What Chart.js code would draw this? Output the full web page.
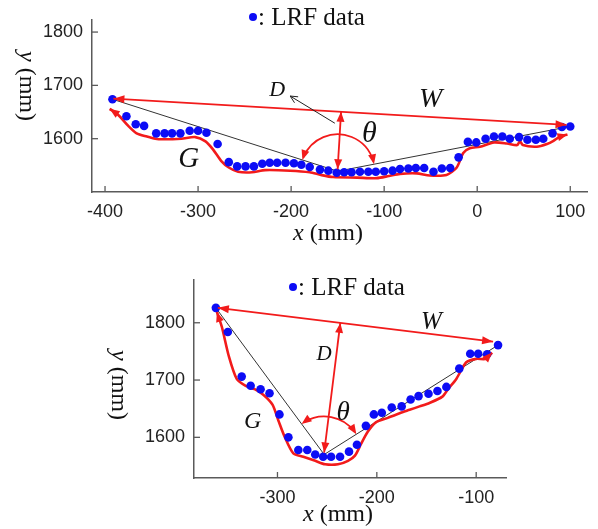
<!DOCTYPE html>
<html><head><meta charset="utf-8">
<script src="https://cdn.jsdelivr.net/npm/chart.js@4.4.0/dist/chart.umd.min.js"></script>
<style>
html,body{margin:0;padding:0;background:#fff;width:598px;height:529px;overflow:hidden}
.box{position:absolute;left:0}
</style></head><body>
<div class="box" style="top:0;width:598px;height:260px"><canvas id="c1" width="598" height="260"></canvas></div>
<div class="box" style="top:260px;width:598px;height:269px"><canvas id="c2" width="598" height="269"></canvas></div>
<script>
// ---------- Top chart data ----------
const topLrfX = [-392,-377,-367,-358,-345,-336,-328,-319,-309,-300,-291,-279,-267,-258,-249,-240,-231,-223,-215,-206,-197,-189,-180,-169,-160,-151,-143,-135,-126,-117,-109,-100,-91,-83,-74,-66,-57,-47,-38,-29,-20,-10,-1,9,18,27,35,45,54,63,71,81,91,100];
const topLrfY = [1674,1642,1627,1624,1610,1610,1610,1610,1615,1615,1611,1590,1556,1548,1548,1548,1553,1555,1555,1555,1554,1551,1547,1542,1540,1536,1537,1537,1538,1538,1538,1539,1540,1543,1544,1545,1545,1538,1544,1545,1565,1594,1593,1600,1604,1604,1600,1603,1598,1598,1600,1610,1622,1623];
const topGX = [-395,-386,-375,-366,-355,-346,-338,-318,-303,-292,-284,-275,-267,-257,-242,-228,-201,-180,-168,-155,-129,-108,-95,-83,-65,-51,-33,-22,-15,-8,3,18,32,43,46,49,64,75,82,89,97];
const topGY = [1656,1645,1624,1610,1604,1600,1599,1600,1603,1595,1580,1558,1546,1538,1537,1541,1540,1537,1532,1528,1527,1526,1530,1534,1535,1531,1532,1546,1573,1582,1585,1593,1591,1588,1595,1588,1585,1590,1596,1604,1608];
const topVX = [-392,-150,100];
const topVY = [1674,1539,1623];
const topWX = [-391,96];
const topWY = [1675,1626];
const topXTicks = [-400,-300,-200,-100,0,100];
const topYTicks = [1600,1700,1800];

// ---------- Bottom chart data ----------
const botLrfX = [-362,-350,-336,-327,-317,-308,-298,-289,-279,-270,-262,-254,-246,-237,-228,-220,-211,-203,-195,-185,-175,-166,-158,-148,-139,-130,-117,-106,-98,-89,-78];
const botLrfY = [1826,1784,1706,1690,1684,1677,1640,1600,1578,1578,1570,1566,1566,1566,1575,1587,1620,1640,1643,1652,1654,1666,1672,1676,1681,1688,1720,1746,1746,1745,1761];
const botGX = [-361,-356,-349,-341,-332,-323,-314,-305,-299,-293,-284,-274,-262,-252,-239,-229,-222,-216,-209,-201,-189,-177,-167,-157,-147,-134,-128,-120,-110,-100,-90,-84];
const botGY = [1819,1793,1742,1702,1690,1684,1674,1657,1629,1602,1572,1566,1559,1553,1553,1559,1568,1588,1610,1626,1634,1642,1648,1654,1660,1671,1685,1702,1731,1737,1737,1748];
const botVX = [-362,-253,-78];
const botVY = [1826,1570,1761];
const botWX = [-360,-83];
const botWY = [1826,1767];
const botXTicks = [-300,-200,-100];
const botYTicks = [1600,1700,1800];

const pts = (xs, ys) => xs.map((x, i) => ({x, y: ys[i]}));
const RED = '#f21b1b', BLUE = '#0c0cf5', AX = '#5a5a5a';
const SERIF = '"Liberation Serif","Times New Roman",serif';
const SANS = '"Liberation Sans",Arial,sans-serif';

function arrowHead(ctx, tx, ty, fx, fy, len, w, color) {
  const a = Math.atan2(ty - fy, tx - fx);
  ctx.save();
  ctx.fillStyle = color;
  ctx.translate(tx, ty); ctx.rotate(a);
  ctx.beginPath(); ctx.moveTo(0, 0); ctx.lineTo(-len, w / 2); ctx.lineTo(-len, -w / 2); ctx.closePath(); ctx.fill();
  ctx.restore();
}

function overlay(conf) {
  return {
    id: 'ov',
    afterDatasetsDraw(chart) {
      const ctx = chart.ctx, xs = chart.scales.x, ys = chart.scales.y, a = chart.chartArea;
      const P = (x, y) => [xs.getPixelForValue(x), ys.getPixelForValue(y)];
      ctx.save();
      // inward ticks
      ctx.strokeStyle = AX; ctx.lineWidth = 1.3;
      conf.xTicks.forEach(v => { const p = xs.getPixelForValue(v); ctx.beginPath(); ctx.moveTo(p, a.bottom); ctx.lineTo(p, a.bottom - 6); ctx.stroke(); });
      conf.yTicks.forEach(v => { const p = ys.getPixelForValue(v); ctx.beginPath(); ctx.moveTo(a.left, p); ctx.lineTo(a.left + 6, p); ctx.stroke(); });

      // W arrow heads
      const w1 = P(conf.wx[0], conf.wy[0]), w2 = P(conf.wx[1], conf.wy[1]);
      arrowHead(ctx, w1[0], w1[1], w2[0], w2[1], 11, 8, RED);
      arrowHead(ctx, w2[0], w2[1], w1[0], w1[1], 11, 8, RED);
      // G arrow heads
      const gx = conf.gx, gy = conf.gy, n = gx.length;
      const g0 = P(gx[0], gy[0]), g1 = P(gx[1], gy[1]);
      arrowHead(ctx, g0[0], g0[1], g1[0], g1[1], 10, 8, RED);
      const gn = P(gx[n - 1], gy[n - 1]), gm = P(gx[n - 2], gy[n - 2]);
      arrowHead(ctx, gn[0], gn[1], gm[0], gm[1], 10, 8, RED);

      // D arrow: perpendicular from vertex to W
      const v = P(conf.vx[1], conf.vy[1]);
      const dx = w2[0] - w1[0], dy = w2[1] - w1[1];
      const t = ((v[0] - w1[0]) * dx + (v[1] - w1[1]) * dy) / (dx * dx + dy * dy);
      const f = [w1[0] + t * dx, w1[1] + t * dy];
      const vt = [v[0], v[1] - 2];
      ctx.strokeStyle = RED; ctx.lineWidth = 1.8;
      ctx.beginPath(); ctx.moveTo(vt[0], vt[1]); ctx.lineTo(f[0], f[1]); ctx.stroke();
      arrowHead(ctx, f[0], f[1], vt[0], vt[1], 10, 8, RED);
      arrowHead(ctx, vt[0], vt[1], f[0], f[1], 10, 8, RED);

      // theta arc between the two arms
      const pL = P(conf.vx[0], conf.vy[0]), pR = P(conf.vx[2], conf.vy[2]);
      const a1 = Math.atan2(pL[1] - v[1], pL[0] - v[0]);
      const a2 = Math.atan2(pR[1] - v[1], pR[0] - v[0]);
      const r = conf.arcR;
      ctx.lineWidth = 1.8;
      ctx.beginPath(); ctx.arc(v[0], v[1], r, a1 + 0.08, a2 - 0.08, false); ctx.stroke();
      const e1 = [v[0] + r * Math.cos(a1), v[1] + r * Math.sin(a1)];
      const e2 = [v[0] + r * Math.cos(a2), v[1] + r * Math.sin(a2)];
      arrowHead(ctx, e1[0], e1[1], e1[0] - 10 * Math.sin(a1), e1[1] + 10 * Math.cos(a1), 10, 8, RED);
      arrowHead(ctx, e2[0], e2[1], e2[0] + 10 * Math.sin(a2), e2[1] - 10 * Math.cos(a2), 10, 8, RED);

      // D leader
      if (conf.leader) {
        const l1 = P(conf.leader[0], conf.leader[1]), l2 = P(conf.leader[2], conf.leader[3]);
        ctx.strokeStyle = '#222'; ctx.lineWidth = 1;
        ctx.beginPath(); ctx.moveTo(l1[0], l1[1]); ctx.lineTo(l2[0], l2[1]); ctx.stroke();
        const ang = Math.atan2(l2[1] - l1[1], l2[0] - l1[0]);
        ctx.beginPath();
        ctx.moveTo(l2[0] - 8 * Math.cos(ang - 0.45), l2[1] - 8 * Math.sin(ang - 0.45));
        ctx.lineTo(l2[0], l2[1]);
        ctx.lineTo(l2[0] - 8 * Math.cos(ang + 0.45), l2[1] - 8 * Math.sin(ang + 0.45));
        ctx.stroke();
      }

      // italic labels
      ctx.fillStyle = '#111'; ctx.textAlign = 'center'; ctx.textBaseline = 'middle';
      conf.labels.forEach(l => {
        const p = P(l.x, l.y);
        ctx.font = 'italic ' + l.size + 'px ' + SERIF;
        ctx.fillText(l.t, p[0], p[1]);
      });

      // legend
      const lg = conf.legend;
      ctx.fillStyle = BLUE;
      ctx.beginPath(); ctx.arc(lg.x, lg.y, 4, 0, Math.PI * 2); ctx.fill();
      ctx.fillStyle = '#111'; ctx.textAlign = 'left'; ctx.textBaseline = 'middle';
      ctx.font = '25px ' + SERIF;
      ctx.fillText(': LRF data', lg.x + 5, lg.y + 1);

      // axis titles
      ctx.textAlign = 'center'; ctx.textBaseline = 'alphabetic';
      const xt = conf.xTitle;
      ctx.font = 'italic 24px ' + SERIF;
      const wx = ctx.measureText('x').width;
      ctx.font = '24px ' + SERIF;
      const wr = ctx.measureText(' (mm)').width;
      const x0 = xt.x - (wx + wr) / 2;
      ctx.textAlign = 'left';
      ctx.font = 'italic 24px ' + SERIF; ctx.fillText('x', x0, xt.y);
      ctx.font = '24px ' + SERIF; ctx.fillText(' (mm)', x0 + wx, xt.y);

      const yt = conf.yTitle;
      ctx.save();
      ctx.translate(yt.x, yt.y); ctx.rotate(Math.PI / 2);
      ctx.font = 'italic 24px ' + SERIF;
      const wy = ctx.measureText('y').width;
      ctx.font = '24px ' + SERIF;
      const wr2 = ctx.measureText(' (mm)').width;
      const y0 = -(wy + wr2) / 2;
      ctx.textBaseline = 'middle';
      ctx.font = 'italic 24px ' + SERIF; ctx.fillText('y', y0, 0);
      ctx.font = '24px ' + SERIF; ctx.fillText(' (mm)', y0 + wy, 0);
      ctx.restore();

      ctx.restore();
    }
  };
}

function makeChart(id, d) {
  return new Chart(document.getElementById(id), {
    type: 'scatter',
    data: {
      datasets: [
        { data: pts(d.vx, d.vy), showLine: true, borderColor: '#333', borderWidth: 1, pointRadius: 0, order: 3 },
        { data: pts(d.gx, d.gy), showLine: true, borderColor: RED, borderWidth: 2.6, pointRadius: 0, tension: 0.25, order: 2 },
        { data: pts(d.lx, d.ly), showLine: false, backgroundColor: BLUE, borderColor: BLUE, pointRadius: 4.3, borderWidth: 0, order: 1 },
        { data: pts(d.wx, d.wy), showLine: true, borderColor: RED, borderWidth: 1.8, pointRadius: 0, order: 0 }
      ]
    },
    options: {
      responsive: false, animation: false, devicePixelRatio: 1,
      layout: { padding: d.pad },
      plugins: { legend: { display: false }, tooltip: { enabled: false } },
      scales: {
        x: {
          type: 'linear', min: d.xmin, max: d.xmax,
          grid: { drawOnChartArea: false, drawTicks: false },
          border: { display: true, color: AX, width: 1.5 },
          afterBuildTicks: s => { s.ticks = d.xTicks.map(v => ({value: v})); },
          afterFit: s => { s.height = d.xh; },
          ticks: { autoSkip: false, maxRotation: 0, padding: d.xpad, color: '#222', font: { family: SANS, size: 18 }, callback: v => String(v) }
        },
        y: {
          type: 'linear', min: d.ymin, max: d.ymax,
          grid: { drawOnChartArea: false, drawTicks: false },
          border: { display: true, color: AX, width: 1.5 },
          afterBuildTicks: s => { s.ticks = d.yTicks.map(v => ({value: v})); },
          afterFit: s => { s.width = d.yw; },
          ticks: { autoSkip: false, padding: 9, color: '#222', font: { family: SANS, size: 18 }, callback: v => String(v) }
        }
      }
    },
    plugins: [overlay({
      xTicks: d.xTicks, yTicks: d.yTicks, wx: d.wx, wy: d.wy, gx: d.gx, gy: d.gy, vx: d.vx, vy: d.vy,
      arcR: d.arcR, leader: d.leader, labels: d.labels, legend: d.legend, xTitle: d.xTitle, yTitle: d.yTitle
    })]
  });
}

makeChart('c1', {
  lx: topLrfX, ly: topLrfY, gx: topGX, gy: topGY, vx: topVX, vy: topVY, wx: topWX, wy: topWY,
  xTicks: topXTicks, yTicks: topYTicks,
  xmin: -414, xmax: 118, ymin: 1500, ymax: 1823,
  pad: { left: 0, right: 11, top: 15, bottom: 0 }, xh: 68, yw: 92, xpad: 9,
  arcR: 37, leader: [-153, 1629, -201, 1680],
  labels: [
    { t: 'W', x: -50, y: 1673, size: 28 },
    { t: 'G', x: -310, y: 1562, size: 29 },
    { t: 'D', x: -215, y: 1690, size: 22 },
    { t: 'θ', x: -116, y: 1609, size: 30 }
  ],
  legend: { x: 253, y: 17 }, xTitle: { x: 328, y: 240 }, yTitle: { x: 26, y: 86 }
});

makeChart('c2', {
  lx: botLrfX, ly: botLrfY, gx: botGX, gy: botGY, vx: botVX, vy: botVY, wx: botWX, wy: botWY,
  xTicks: botXTicks, yTicks: botYTicks,
  xmin: -384, xmax: -70, ymin: 1529, ymax: 1875,
  pad: { left: 0, right: 92, top: 15, bottom: 0 }, xh: 51, yw: 194, xpad: 9,
  arcR: 38, leader: null,
  labels: [
    { t: 'W', x: -145, y: 1800, size: 25 },
    { t: 'G', x: -325, y: 1628, size: 24 },
    { t: 'D', x: -253, y: 1745, size: 21 },
    { t: 'θ', x: -234, y: 1642, size: 27 }
  ],
  legend: { x: 293, y: 27 }, xTitle: { x: 338, y: 261 }, yTitle: { x: 118, y: 125 }
});
</script>
</body></html>
